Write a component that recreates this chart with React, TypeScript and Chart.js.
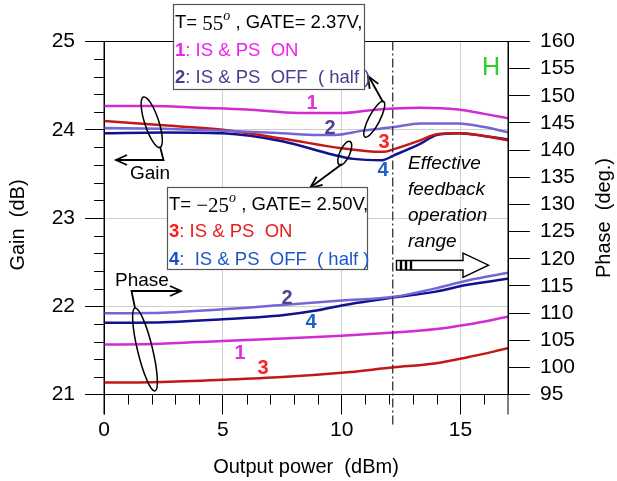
import React, { useEffect, useRef } from "react";
import { Chart, registerables } from "chart.js";

Chart.register(...registerables);

const SANS = '"Liberation Sans", Arial, Helvetica, sans-serif';
const SERIF = '"Liberation Serif", "Times New Roman", serif';

// ---- data (x = output power dBm) ----
const gain1X = [0, 2, 4, 6, 8.2, 10, 11.2, 12.2, 13.3, 14.9, 16, 17];
const gain1Y = [24.27, 24.27, 24.25, 24.23, 24.19, 24.19, 24.22, 24.24, 24.25, 24.23, 24.18, 24.13];

const gain2X = [0, 2.5, 5, 7.5, 9, 9.7, 10.9, 12.2, 13.3, 14.9, 16, 17];
const gain2Y = [24.02, 24.01, 23.99, 23.96, 23.94, 23.94, 23.99, 24.03, 24.07, 24.07, 24.03, 23.97];

const gain3X = [0, 2.5, 5, 7.5, 10, 11, 11.8, 12.2, 13.3, 14, 14.9, 16, 17];
const gain3Y = [24.1, 24.05, 24.0, 23.9, 23.79, 23.76, 23.75, 23.78, 23.88, 23.95, 23.96, 23.93, 23.88];

const gain4X = [0, 2.5, 5, 7.5, 9.6, 10.5, 11.7, 12.2, 13.3, 14, 14.9, 16, 17];
const gain4Y = [23.96, 23.97, 23.96, 23.87, 23.72, 23.67, 23.655, 23.71, 23.84, 23.94, 23.96, 23.93, 23.89];

const phase1X = [0, 2, 5, 8, 10, 12.2, 13.9, 15.3, 17];
const phase1Y = [104.2, 104.3, 104.85, 105.4, 105.8, 106.4, 107.0, 107.9, 109.3];

const phase2X = [0, 2, 5, 7.5, 10, 12.2, 13.9, 15.3, 17];
const phase2Y = [109.95, 110.0, 110.7, 111.5, 112.3, 113.0, 114.5, 116.0, 117.4];

const phase3X = [0, 2, 5, 7.5, 10, 12.2, 13.9, 15.3, 17];
const phase3Y = [97.2, 97.25, 97.7, 98.2, 99.0, 100.0, 100.7, 101.85, 103.5];

const phase4X = [0, 2, 5, 7.5, 9, 10, 12.2, 13.9, 15.3, 17];
const phase4Y = [108.2, 108.25, 108.85, 109.6, 110.5, 111.4, 112.9, 113.9, 115.2, 116.3];

const xRange = [0, 17];
const gainRange = [21, 25];
const phaseRange = [95, 160];
const feedbackStart = 12.15;

const C1 = "#d42ad4";
const C2 = "#7466d6";
const C3 = "#c41818";
const C4 = "#12128e";

function pts(xs: number[], ys: number[]) {
  return xs.map((x, i) => ({ x, y: ys[i] }));
}

type Run = { t: string; font: string; color: string; dy?: number };

function drawRuns(ctx: CanvasRenderingContext2D, x: number, y: number, runs: Run[]) {
  let cx = x;
  ctx.textBaseline = "middle";
  ctx.textAlign = "left";
  for (const r of runs) {
    ctx.font = r.font;
    ctx.fillStyle = r.color;
    ctx.fillText(r.t, cx, y + (r.dy || 0));
    cx += ctx.measureText(r.t).width;
  }
}

function arrowHead(ctx: CanvasRenderingContext2D, tx: number, ty: number, fx: number, fy: number, len = 11, half = 5) {
  const a = Math.atan2(ty - fy, tx - fx);
  const ux = Math.cos(a), uy = Math.sin(a);
  const bx = tx - ux * len, by = ty - uy * len;
  ctx.beginPath();
  ctx.moveTo(bx - uy * half, by + ux * half);
  ctx.lineTo(tx, ty);
  ctx.lineTo(bx + uy * half, by - ux * half);
  ctx.stroke();
}

function ellipse(ctx: CanvasRenderingContext2D, x1: number, y1: number, x2: number, y2: number, minor: number) {
  const cx = (x1 + x2) / 2, cy = (y1 + y2) / 2;
  const major = Math.hypot(x2 - x1, y2 - y1) / 2;
  const rot = Math.atan2(y2 - y1, x2 - x1);
  ctx.beginPath();
  ctx.ellipse(cx, cy, major, minor, rot, 0, Math.PI * 2);
  ctx.stroke();
}

const decor = {
  id: "decor",
  afterDatasetsDraw(chart: any) {
    const { ctx, chartArea: a, scales } = chart;
    const sx = scales.x, sy = scales.y;
    ctx.save();
    // frame
    ctx.strokeStyle = "#000";
    ctx.lineWidth = 1;
    ctx.setLineDash([]);
    ctx.beginPath();
    ctx.moveTo(a.left, a.top);
    ctx.lineTo(a.right, a.top);
    ctx.moveTo(a.left, a.top);
    ctx.lineTo(a.left, a.bottom + 20);
    ctx.moveTo(a.right, a.top);
    ctx.lineTo(a.right, a.bottom + 20);
    ctx.moveTo(a.left, a.bottom);
    ctx.lineTo(a.right, a.bottom);
    ctx.stroke();
    // minor ticks
    ctx.beginPath();
    for (let i = 1; i < 20; i++) {
      if (i % 5 === 0) continue;
      const y = Math.round(sy.getPixelForValue(gainRange[0] + i * 0.2)) + 0.5;
      ctx.moveTo(a.left - 10, y);
      ctx.lineTo(a.left, y);
    }
    for (let i = 1; i < 17; i++) {
      if (i % 5 === 0) continue;
      const x = Math.round(sx.getPixelForValue(i)) + 0.5;
      ctx.moveTo(x, a.bottom);
      ctx.lineTo(x, a.bottom + 10);
    }
    ctx.stroke();
    // dash-dot line
    const dx = sx.getPixelForValue(feedbackStart);
    ctx.strokeStyle = "#333";
    ctx.lineWidth = 1.3;
    ctx.setLineDash([9, 3, 2, 3]);
    ctx.beginPath();
    ctx.moveTo(dx, a.top);
    ctx.lineTo(dx, a.bottom + 30);
    ctx.stroke();
    ctx.setLineDash([]);

    // ellipses & arrows
    ctx.strokeStyle = "#000";
    ctx.lineWidth = 1.5;
    ellipse(ctx, 143.5, 97, 160, 147.5, 7);
    ellipse(ctx, 135, 308, 155, 391, 7.5);
    ellipse(ctx, 383.5, 101.5, 365, 137, 5.5);
    ellipse(ctx, 350, 141.5, 339.5, 165, 5);

    ctx.lineWidth = 1.8;
    ctx.beginPath();
    ctx.moveTo(160, 146.5);
    ctx.lineTo(163.5, 160);
    ctx.lineTo(117, 160);
    ctx.stroke();
    arrowHead(ctx, 116, 160, 130, 160);

    ctx.beginPath();
    ctx.moveTo(135, 308);
    ctx.lineTo(131.5, 291);
    ctx.lineTo(180, 291);
    ctx.stroke();
    arrowHead(ctx, 181, 291, 160, 291);

    ctx.beginPath();
    ctx.moveTo(383, 102);
    ctx.lineTo(369, 77);
    ctx.stroke();
    arrowHead(ctx, 368, 76, 383, 102, 12, 5);

    ctx.beginPath();
    ctx.moveTo(342, 164);
    ctx.lineTo(311, 187);
    ctx.stroke();
    arrowHead(ctx, 310, 188, 342, 164, 12, 5);

    // hollow arrow
    ctx.lineWidth = 1.4;
    ctx.fillStyle = "#fff";
    for (const bx of [396.5, 401.5, 406.5]) {
      ctx.strokeRect(bx, 260.5, 4, 9.5);
    }
    ctx.beginPath();
    ctx.moveTo(411.5, 260.5);
    ctx.lineTo(463, 260.5);
    ctx.lineTo(463, 253);
    ctx.lineTo(488.5, 265.2);
    ctx.lineTo(463, 277.5);
    ctx.lineTo(463, 270);
    ctx.lineTo(411.5, 270);
    ctx.closePath();
    ctx.fill();
    ctx.stroke();

    // texts
    ctx.textBaseline = "middle";
    ctx.textAlign = "left";
    ctx.fillStyle = "#000";
    ctx.font = `19px ${SANS}`;
    ctx.fillText("Gain", 130, 174);
    ctx.fillText("Phase", 115, 281);
    ctx.font = `italic 19px ${SANS}`;
    ctx.fillText("Effective", 408, 164);
    ctx.fillText("feedback", 408, 190);
    ctx.fillText("operation", 408, 216);
    ctx.fillText("range", 408, 242);
    ctx.fillStyle = "#2ecc2e";
    ctx.font = `25px ${SANS}`;
    ctx.textAlign = "center";
    ctx.fillText("H", 491, 68);

    // curve labels
    const lb = (t: string, c: string, x: number, y: number) => {
      ctx.font = `bold 20px ${SANS}`;
      ctx.fillStyle = c;
      ctx.textAlign = "center";
      ctx.fillText(t, x, y);
    };
    lb("1", "#e030e0", 312, 103);
    lb("2", "#574094", 330, 128);
    lb("3", "#ff2020", 384, 142);
    lb("4", "#1f5fc8", 383, 170);
    lb("2", "#574094", 287, 298);
    lb("4", "#1f5fc8", 311, 322);
    lb("1", "#e030e0", 240, 353);
    lb("3", "#ff2020", 263, 368);

    // boxes
    ctx.lineWidth = 1.2;
    ctx.strokeStyle = "#555";
    ctx.fillStyle = "#fff";
    ctx.fillRect(173, 4, 191, 85);
    ctx.strokeRect(173.5, 4.5, 191, 85);
    ctx.fillRect(167, 187, 200, 82);
    ctx.strokeRect(167.5, 187.5, 200, 82);

    const f = `18.5px ${SANS}`;
    const fb = `bold 18.5px ${SANS}`;
    drawRuns(ctx, 175, 23, [
      { t: "T= ", font: f, color: "#000" },
      { t: "55", font: `21px ${SERIF}`, color: "#000", dy: 1 },
      { t: "o", font: `italic 14px ${SERIF}`, color: "#000", dy: -7 },
      { t: " , GATE= 2.37V,", font: f, color: "#000" },
    ]);
    drawRuns(ctx, 175, 51, [
      { t: "1", font: fb, color: "#ee22ee" },
      { t: ": IS & PS  ON", font: f, color: "#ee22ee" },
    ]);
    drawRuns(ctx, 175, 78, [
      { t: "2", font: fb, color: "#4d3b8e" },
      { t: ": IS & PS  OFF  ( half )", font: f, color: "#4d3b8e" },
    ]);
    drawRuns(ctx, 169, 205, [
      { t: "T= ", font: f, color: "#000" },
      { t: "\u221225", font: `21px ${SERIF}`, color: "#000", dy: 1 },
      { t: "o", font: `italic 14px ${SERIF}`, color: "#000", dy: -7 },
      { t: " , GATE= 2.50V,", font: f, color: "#000" },
    ]);
    drawRuns(ctx, 169, 232, [
      { t: "3", font: fb, color: "#ff1a1a" },
      { t: ": IS & PS  ON", font: f, color: "#e81c1c" },
    ]);
    drawRuns(ctx, 169, 260, [
      { t: "4", font: fb, color: "#1a4fc4" },
      { t: ":  IS & PS  OFF  ( half )", font: f, color: "#1f57c8" },
    ]);

    // axis titles
    ctx.fillStyle = "#000";
    ctx.font = `20px ${SANS}`;
    ctx.textAlign = "center";
    ctx.fillText("Output power  (dBm)", (a.left + a.right) / 2, 467);
    ctx.save();
    ctx.translate(18, 225);
    ctx.rotate(-Math.PI / 2);
    ctx.fillText("Gain  (dB)", 0, 0);
    ctx.restore();
    ctx.save();
    ctx.translate(604, 218);
    ctx.rotate(-Math.PI / 2);
    ctx.fillText("Phase  (deg.)", 0, 0);
    ctx.restore();
    ctx.restore();
  },
};

export default function App() {
  const ref = useRef<HTMLCanvasElement | null>(null);
  useEffect(() => {
    document.body.style.margin = "0";
    const canvas = ref.current!;
    const ds = (label: string, xs: number[], ys: number[], color: string, axis: string) => ({
      label,
      data: pts(xs, ys),
      borderColor: color,
      backgroundColor: color,
      borderWidth: 2.5,
      pointRadius: 0,
      cubicInterpolationMode: "monotone" as const,
      yAxisID: axis,
    });
    const tickFont = { family: SANS, size: 21 };
    const chart = new Chart(canvas, {
      type: "line",
      data: {
        datasets: [
          ds("Gain 1", gain1X, gain1Y, C1, "y"),
          ds("Gain 2", gain2X, gain2Y, C2, "y"),
          ds("Gain 3", gain3X, gain3Y, C3, "y"),
          ds("Gain 4", gain4X, gain4Y, C4, "y"),
          ds("Phase 1", phase1X, phase1Y, C1, "y2"),
          ds("Phase 2", phase2X, phase2Y, C2, "y2"),
          ds("Phase 3", phase3X, phase3Y, C3, "y2"),
          ds("Phase 4", phase4X, phase4Y, C4, "y2"),
        ],
      },
      options: {
        responsive: false,
        animation: false,
        layout: { padding: { top: 41.5, left: 0, right: 0, bottom: 0 } },
        plugins: { legend: { display: false }, tooltip: { enabled: false } },
        scales: {
          x: {
            type: "linear",
            position: "bottom",
            min: xRange[0],
            max: xRange[1],
            ticks: { stepSize: 5, includeBounds: false, autoSkip: false, color: "#000", font: tickFont, padding: 3, maxRotation: 0 },
            grid: { color: "#cfcfcf", tickColor: "#000", tickLength: 20, lineWidth: 1 },
            border: { color: "#000", width: 1 },
            afterFit: (s: any) => {
              s.height = 86.5;
            },
          },
          y: {
            type: "linear",
            position: "left",
            min: gainRange[0],
            max: gainRange[1],
            ticks: { stepSize: 1, autoSkip: false, color: "#000", font: tickFont, padding: 10 },
            grid: { color: "#cfcfcf", tickColor: "#000", tickLength: 19, lineWidth: 1 },
            border: { color: "#000", width: 1 },
            afterFit: (s: any) => {
              s.width = 104;
            },
          },
          y2: {
            type: "linear",
            position: "right",
            min: phaseRange[0],
            max: phaseRange[1],
            ticks: { stepSize: 5, autoSkip: false, color: "#000", font: tickFont, padding: 10 },
            grid: { drawOnChartArea: false, tickColor: "#000", tickLength: 22, lineWidth: 1 },
            border: { color: "#000", width: 1 },
            afterFit: (s: any) => {
              s.width = 109;
            },
          },
        },
      },
      plugins: [decor],
    } as any);
    return () => chart.destroy();
  }, []);
  return (
    <div style={{ width: 617, height: 481, background: "#fff" }}>
      <canvas ref={ref} width={617} height={481} style={{ display: "block" }} />
    </div>
  );
}
